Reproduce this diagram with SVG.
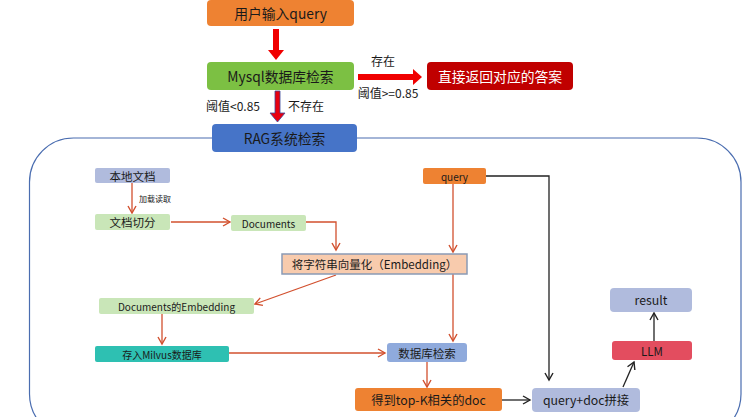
<svg xmlns="http://www.w3.org/2000/svg" width="746" height="417" viewBox="0 0 746 417">
<style>
text{font-family:"Noto Sans CJK SC","Liberation Sans",sans-serif;fill:#1a1a1a;text-anchor:middle;dominant-baseline:central}
.big{font-size:13.8px}
.mid{font-size:11.5px}
.lg{font-size:12.3px}
.sm{font-size:10px}
.lab{font-size:12px}
.tiny{font-size:8px;text-anchor:start}
.w{fill:#ffffff}
.c{fill:none;stroke:#D2502E;stroke-width:1.3}
.k{fill:none;stroke:#222;stroke-width:1.3}
</style>
<defs>
<marker id="ar" markerWidth="10" markerHeight="10" refX="8" refY="5" orient="auto" markerUnits="userSpaceOnUse"><path d="M1,1 L8,5 L1,9" fill="none" stroke="#D2502E" stroke-width="1.4"/></marker>
<marker id="ak" markerWidth="10" markerHeight="10" refX="8" refY="5" orient="auto" markerUnits="userSpaceOnUse"><path d="M1,1 L8,5 L1,9" fill="none" stroke="#222" stroke-width="1.4"/></marker>
</defs>
<rect x="29.5" y="138" width="711.5" height="300" rx="44" fill="none" stroke="#4A6DB0" stroke-width="1.2"/>
<g id="connectors">
<path d="M273,29 H279 V50 H284 L276,60 L268,50 H273 Z" fill="#F00000"/>
<path d="M358,74 H413 V69 L422,77 L413,85 V80 H358 Z" fill="#F00000"/>
<path d="M275,91 H280 V113 H285 L277.5,122 L270,113 H275 Z" fill="#E80010" stroke="#3A4A9A" stroke-width="0.8"/>
<path class="c" d="M132,183 V213" marker-end="url(#ar)"/>
<path class="c" d="M171,222 H230" marker-end="url(#ar)"/>
<path class="c" d="M306,222 H336 V250" marker-end="url(#ar)"/>
<path class="c" d="M453,184 V252" marker-end="url(#ar)"/>
<path class="c" d="M336,275 L255,304" marker-end="url(#ar)"/>
<path class="c" d="M162,314 V344" marker-end="url(#ar)"/>
<path class="c" d="M229,353 H385" marker-end="url(#ar)"/>
<path class="c" d="M453,274 V341" marker-end="url(#ar)"/>
<path class="c" d="M427,362 V387" marker-end="url(#ar)"/>
<path class="k" d="M486,176 H549 V380" marker-end="url(#ak)"/>
<path class="k" d="M502,400 H530" marker-end="url(#ak)"/>
<path class="k" d="M623,387 L634,362" marker-end="url(#ak)"/>
<path class="k" d="M654,341 V313" marker-end="url(#ak)"/>
</g>
<text class="lab" x="383" y="60">存在</text>
<text class="lab" x="388" y="92">阈值&gt;=0.85</text>
<text class="lab" x="233" y="105">阈值&lt;0.85</text>
<text class="lab" x="306" y="105">不存在</text>
<text class="tiny" x="139" y="198">加载读取</text>
<g id="user-query"><rect x="207" y="0" width="147" height="26" rx="4" fill="#EE8232"/><text class="big" x="280.5" y="13">用户输入query</text></g>
<g id="mysql"><rect x="207" y="62" width="147" height="28" rx="4" fill="#7CC043"/><text class="big" x="280.5" y="76">Mysql数据库检索</text></g>
<g id="answer"><rect x="427" y="62" width="146" height="28" rx="4" fill="#C00000"/><text class="big w" x="500" y="76">直接返回对应的答案</text></g>
<g id="rag"><rect x="212" y="124" width="145" height="28" rx="4" fill="#4674C8"/><text class="big" x="284.5" y="138">RAG系统检索</text></g>
<g id="local-doc"><rect x="95" y="168" width="75" height="15" rx="2" fill="#B0BBDD"/><text class="mid" x="132.5" y="175.5">本地文档</text></g>
<g id="split"><rect x="95" y="214" width="75" height="16" rx="2" fill="#C9E6B8"/><text class="mid" x="132.5" y="222">文档切分</text></g>
<g id="documents"><rect x="231" y="215" width="75" height="16" rx="2" fill="#C9E6B8"/><text class="sm" x="268.5" y="223">Documents</text></g>
<g id="query"><rect x="423" y="168" width="63" height="16" rx="2" fill="#EE8232"/><text class="sm" x="454.5" y="176">query</text></g>
<g id="embedding"><rect x="282" y="254" width="185" height="20" fill="#F8CBAD" stroke="#8A9AB5" stroke-width="1.5"/><text class="mid" x="374.5" y="264">将字符串向量化（Embedding）</text></g>
<g id="doc-embedding"><rect x="99" y="298" width="155" height="16" rx="2" fill="#C9E6B8"/><text class="sm" x="176.5" y="306">Documents的Embedding</text></g>
<g id="milvus"><rect x="95" y="346" width="134" height="16" rx="2" fill="#2EC0B2"/><text class="sm" x="162" y="354">存入Milvus数据库</text></g>
<g id="db-search"><rect x="387" y="343" width="80" height="19" rx="3" fill="#8FAADC"/><text class="mid" x="427" y="352.5">数据库检索</text></g>
<g id="topk"><rect x="355" y="388" width="147" height="23" rx="3" fill="#EE8232"/><text class="lg" x="428.5" y="399.5">得到top-K相关的doc</text></g>
<g id="concat"><rect x="532" y="388" width="108" height="24" rx="4" fill="#B0BBDD"/><text class="lg" x="586" y="400">query+doc拼接</text></g>
<g id="llm"><rect x="612" y="341" width="80" height="19" rx="3" fill="#E34D5F"/><text class="mid" x="652" y="350.5">LLM</text></g>
<g id="result"><rect x="610" y="288" width="82" height="24" rx="4" fill="#B0BBDD"/><text class="lg" x="651" y="300">result</text></g>
</svg>
